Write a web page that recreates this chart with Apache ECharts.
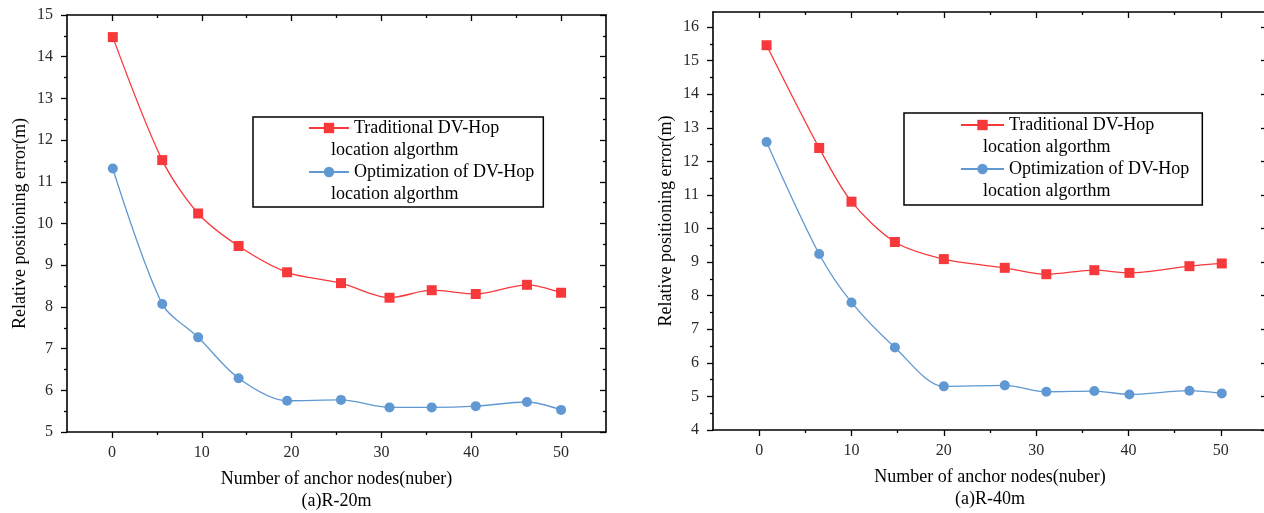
<!DOCTYPE html>
<html><head><meta charset="utf-8">
<script src="https://cdn.jsdelivr.net/npm/echarts@6/dist/echarts.min.js"></script>
<style>html,body{margin:0;padding:0;background:#fff}#c{width:1264px;height:513px}</style>
</head><body><div id="c"></div>
<script>
// ---- data ----
const seriesNames = ['Traditional DV-Hop location algorthm', 'Optimization of DV-Hop location algorthm'];
const legendLine1 = ['Traditional DV-Hop', 'Optimization of DV-Hop'];
const legendLine2 = ['location algorthm', 'location algorthm'];
const xLeft = [0.1, 5.6, 9.6, 14.1, 19.5, 25.5, 30.9, 35.6, 40.5, 46.2, 50.0];
const redLeft = [14.47, 11.52, 10.24, 9.46, 8.83, 8.57, 8.22, 8.40, 8.31, 8.53, 8.34];
const blueLeft = [11.32, 8.07, 7.27, 6.29, 5.75, 5.77, 5.59, 5.59, 5.62, 5.72, 5.53];
const xRight = [0.8, 6.5, 10.0, 14.7, 20.0, 26.6, 31.1, 36.3, 40.1, 46.6, 50.1];
const redRight = [15.46, 12.40, 10.80, 9.60, 9.09, 8.83, 8.64, 8.76, 8.68, 8.88, 8.96];
const blueRight = [12.58, 9.24, 7.80, 6.46, 5.30, 5.33, 5.14, 5.16, 5.06, 5.17, 5.09];
const xMajorTicks = [0, 10, 20, 30, 40, 50];
const xMinorTicks = [5, 15, 25, 35, 45];
const yMajorLeft = [5, 6, 7, 8, 9, 10, 11, 12, 13, 14, 15];
const yMinorLeft = [5.5, 6.5, 7.5, 8.5, 9.5, 10.5, 11.5, 12.5, 13.5, 14.5];
const yMajorRight = [4, 5, 6, 7, 8, 9, 10, 11, 12, 13, 14, 15, 16];
const yMinorRight = [4.5, 5.5, 6.5, 7.5, 8.5, 9.5, 10.5, 11.5, 12.5, 13.5, 14.5, 15.5];
const xTitleLeft = 'Number of anchor nodes(nuber)\n(a)R-20m';
const xTitleRight = 'Number of anchor nodes(nuber)\n(a)R-40m';
const yTitle = 'Relative positioning error(m)';

// ---- styles ----
const FONT = '"Liberation Serif", "Times New Roman", serif';
const RED = '#f8393c';
const BLUE = '#5f98d2';

function axis(dim, grid, pos, min, max, interval, ticks, len, inside, opts) {
  opts = opts || {};
  return Object.assign({
    type: 'value', gridIndex: grid, position: pos, min: min, max: max, interval: interval,
    axisLine: {show: !!opts.line, onZero: false, lineStyle: {color: '#000', width: 1.6}},
    axisTick: {show: true, inside: inside, length: len, customValues: ticks, lineStyle: {color: '#000', width: 1.3}},
    axisLabel: opts.labels ? {show: true, customValues: ticks, color: '#2a2a2a', fontFamily: FONT, fontSize: 16, margin: opts.margin} : {show: false},
    splitLine: {show: false}, minorTick: {show: false}, minorSplitLine: {show: false},
    nameMoveOverlap: false
  }, opts.extra || {});
}

const nameStyle = {color: '#000', fontFamily: FONT, fontSize: 18, lineHeight: 22};

function xAxes(grid, title) {
  return [
    axis('x', grid, 'bottom', -5, 55, 5, xMajorTicks, 6, false, {line: true, labels: true, margin: 13,
      extra: {name: title, nameLocation: 'middle', nameGap: 36, nameTextStyle: nameStyle}}),
    axis('x', grid, 'bottom', -5, 55, 5, xMinorTicks, 3, false),
    axis('x', grid, 'top', -5, 55, 5, xMajorTicks, 6, true, {line: true}),
    axis('x', grid, 'top', -5, 55, 5, xMinorTicks, 3, true)
  ];
}
function yAxes(grid, min, max, majors, minors) {
  return [
    axis('y', grid, 'left', min, max, 1, majors, 6, false, {line: true, labels: true, margin: 14,
      extra: {name: yTitle, nameLocation: 'middle', nameGap: 36, nameTextStyle: nameStyle}}),
    axis('y', grid, 'left', min, max, 1, minors, 3, false),
    axis('y', grid, 'right', min, max, 1, majors, 6, true, {line: true}),
    axis('y', grid, 'right', min, max, 1, minors, 3, true)
  ];
}

function pairs(xs, ys) { return xs.map((x, i) => [x, ys[i]]); }
function lineSeries(name, xIdx, yIdx, xs, ys, color, symbol) {
  return {
    type: 'line', name: name, xAxisIndex: xIdx, yAxisIndex: yIdx,
    data: pairs(xs, ys), smooth: 0.3, symbol: symbol, symbolSize: 10, showSymbol: true,
    lineStyle: {color: color, width: 1.3}, itemStyle: {color: color, borderWidth: 0},
    emphasis: {disabled: true}
  };
}
function legend(left, top, padding, itemWidth) {
  return {
    show: true, orient: 'vertical', left: left, top: top, padding: padding,
    itemGap: 22, itemWidth: itemWidth, itemHeight: 13, selectedMode: false,
    backgroundColor: '#fff', borderColor: '#000', borderWidth: 1.5, borderRadius: 0,
    textStyle: {fontFamily: FONT, fontSize: 18, color: '#000', lineHeight: 22},
    formatter: n => legendLine1[seriesNames.indexOf(n)],
    data: seriesNames
  };
}
function line2Text(left, cy, txt) {
  return {type: 'text', left: left, top: cy - 11, z: 100,
    style: {text: txt, font: '18px ' + FONT, fill: '#000', lineHeight: 22}};
}

const chart = echarts.init(document.getElementById('c'), null, {renderer: 'canvas'});
chart.setOption({
  animation: false,
  backgroundColor: '#fff',
  grid: [
    {left: 67, top: 15, width: 539, height: 417, outerBoundsMode: 'none', containLabel: false},
    {left: 713, top: 12, width: 554, height: 418, outerBoundsMode: 'none', containLabel: false}
  ],
  xAxis: xAxes(0, xTitleLeft).concat(xAxes(1, xTitleRight)),
  yAxis: yAxes(0, 5, 15, yMajorLeft, yMinorLeft).concat(yAxes(1, 4, 16.45, yMajorRight, yMinorRight)),
  legend: [
    legend(253, 117, [0, 9, 24, 55], 40),
    legend(904, 113, [1, 13, 25, 56], 43)
  ],
  graphic: [
    line2Text(331, 150, legendLine2[0]),
    line2Text(331, 194, legendLine2[1]),
    line2Text(983, 147, legendLine2[0]),
    line2Text(983, 191, legendLine2[1])
  ],
  series: [
    lineSeries(seriesNames[0], 0, 0, xLeft, redLeft, RED, 'rect'),
    lineSeries(seriesNames[1], 0, 0, xLeft, blueLeft, BLUE, 'circle'),
    lineSeries(seriesNames[0], 4, 4, xRight, redRight, RED, 'rect'),
    lineSeries(seriesNames[1], 4, 4, xRight, blueRight, BLUE, 'circle')
  ]
});
</script></body></html>
